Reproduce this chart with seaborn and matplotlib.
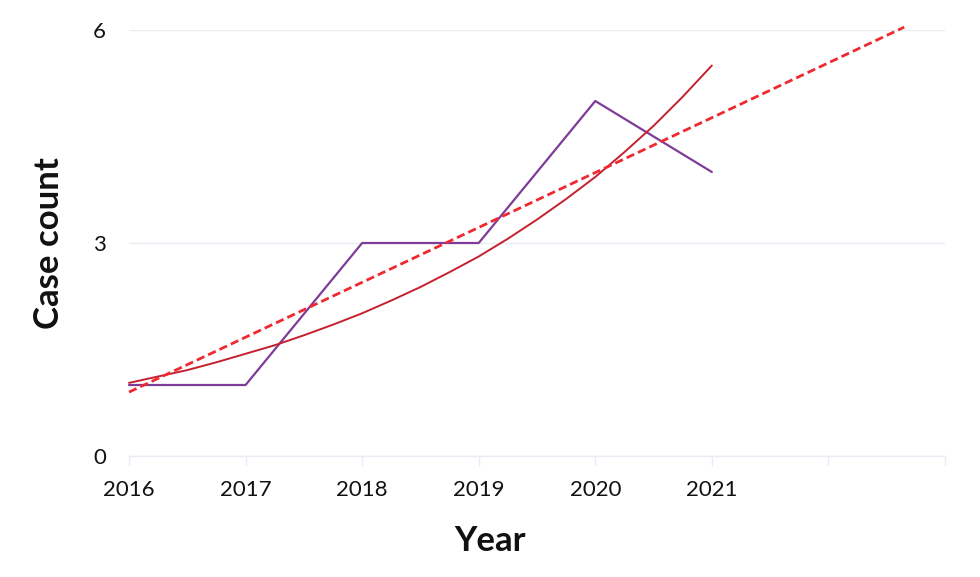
import matplotlib
matplotlib.use("Agg")
import matplotlib.pyplot as plt
import seaborn as sns
import pandas as pd

# Observed case counts
years = [2016, 2017, 2018, 2019, 2020, 2021]
cases = [1, 1, 3, 3, 5, 4]

# Exponential trend curve
exp_x = [2016.0, 2016.25, 2016.5, 2016.75, 2017.0, 2017.25, 2017.5, 2017.75,
         2018.0, 2018.25, 2018.5, 2018.75, 2019.0, 2019.25, 2019.5, 2019.75,
         2020.0, 2020.25, 2020.5, 2020.75, 2021.0]
exp_y = [1.03, 1.12, 1.21, 1.32, 1.44, 1.56, 1.70, 1.85,
         2.01, 2.19, 2.38, 2.59, 2.81, 3.06, 3.33, 3.62,
         3.93, 4.28, 4.65, 5.06, 5.50]

# Linear trend (forecast) line endpoints
lin_x = [2016.0, 2022.65]
lin_y = [0.90, 6.04]

x_ticks = [2016, 2017, 2018, 2019, 2020, 2021, 2022, 2023]
x_labels = ["2016", "2017", "2018", "2019", "2020", "2021", "", ""]
y_ticks = [0, 3, 6]

sns.set_style("white")
plt.rcParams["font.family"] = ["Lato", "DejaVu Sans"]

fig = plt.figure(figsize=(9.8, 5.77), dpi=100)
ax = fig.add_axes([129/980, 1-456/577, (945-129)/980, (456-30)/577])

df_obs = pd.DataFrame({"Year": years, "Cases": cases})
df_exp = pd.DataFrame({"Year": exp_x, "Cases": exp_y})
df_lin = pd.DataFrame({"Year": lin_x, "Cases": lin_y})

sns.lineplot(data=df_obs, x="Year", y="Cases", ax=ax, color="#7d3c98", linewidth=1.6, clip_on=False, zorder=3)
sns.lineplot(data=df_exp, x="Year", y="Cases", ax=ax, color="#c4202e", linewidth=1.4, clip_on=False, zorder=4)
sns.lineplot(data=df_lin, x="Year", y="Cases", ax=ax, color="#ee2a30", linewidth=2.0,
             linestyle=(0, (3, 1.5)), clip_on=False, zorder=5)

ax.set_xlim(2016, 2023)
ax.set_ylim(0, 6)
ax.set_xticks(x_ticks)
ax.set_xticklabels(x_labels)
ax.set_yticks(y_ticks)
ax.set_yticklabels([str(v) for v in y_ticks])

grid_c = "#e9ecf2"
ax.grid(axis="y", color=grid_c, linewidth=1.0)
ax.grid(axis="x", visible=False)
for s in ["top", "right", "left"]:
    ax.spines[s].set_visible(False)
ax.spines["bottom"].set_color(grid_c)
ax.spines["bottom"].set_linewidth(1.0)

ax.tick_params(axis="x", bottom=True, length=7, width=1.0, color=grid_c, pad=10,
               labelsize=16, labelcolor="#111111")
ax.tick_params(axis="y", left=False, pad=13, labelsize=16, labelcolor="#111111")

ax.set_xlabel("Year", fontsize=25, fontweight="bold", color="#111111")
ax.xaxis.set_label_coords((490 - 129) / 816, (456 - 541) / 426)
ax.xaxis.label.set_va("center")
ax.set_ylabel("Case count", fontsize=25, fontweight="bold", labelpad=20, color="#111111")

fig.savefig("out.png", dpi=100)
